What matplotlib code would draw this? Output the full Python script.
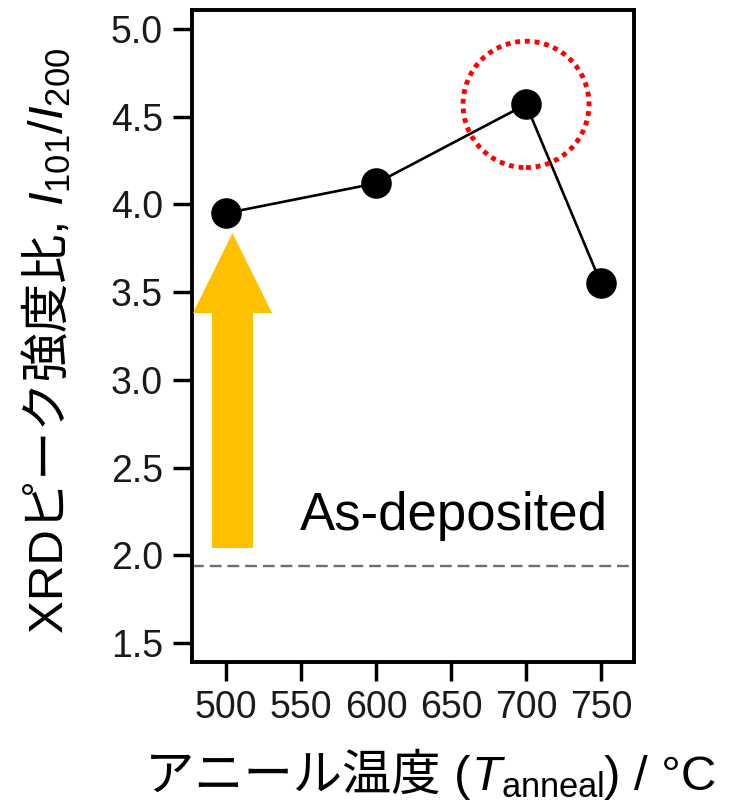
import matplotlib
matplotlib.use('Agg')
import matplotlib.pyplot as plt
from matplotlib.patches import Ellipse, FancyArrow

# data
temps = [500, 600, 700, 750]
ratio = [3.95, 4.12, 4.57, 3.55]
as_deposited = 1.94
xticks = [500, 550, 600, 650, 700, 750]
yticks = [1.5, 2.0, 2.5, 3.0, 3.5, 4.0, 4.5, 5.0]

W, H = 730, 806
plt.rcParams['font.family'] = ['Liberation Sans', 'Noto Sans CJK JP']
plt.rcParams['mathtext.fontset'] = 'custom'
plt.rcParams['mathtext.rm'] = 'Liberation Sans'
plt.rcParams['mathtext.it'] = 'Liberation Sans:italic'

fig = plt.figure(figsize=(W / 100, H / 100), dpi=100)
ax = fig.add_axes([192/W, 144/H, 442/W, 652/H])

ax.plot(temps, ratio, '-o', color='black', lw=1.9, ms=21)
ax.axhline(as_deposited, color='#6e6e6e', lw=1.7, ls=(0, (5, 2.5)))

# orange arrow (as-deposited -> 500 C)
ax.add_patch(FancyArrow(504.3, 2.042, 0, 3.837 - 2.042, width=27.3, head_width=52.7,
                        head_length=0.456, length_includes_head=True,
                        color='#FFC000', lw=0, zorder=3))

# dotted circle around the peak
ax.add_patch(Ellipse((700, 4.57), 84, 0.72, fill=False, edgecolor='#FF0000',
                     lw=3.5, ls=(0, (1, 1)), zorder=4))

ax.text(549, 2.144, 'As-deposited', fontsize=38, color='black')

ax.set_xlim(477.3, 772)
ax.set_ylim(1.392, 5.108)
ax.set_xticks(xticks)
ax.set_yticks(yticks)
ax.set_yticklabels([f'{v:.1f}' for v in yticks])
ax.tick_params(direction='out', length=14, width=2.5, labelsize=27, labelcolor='#1a1a1a')
ax.tick_params(axis='y', pad=7)
ax.tick_params(axis='x', pad=6)
for s in ax.spines.values():
    s.set_linewidth(2.8)


def pieces(x, y, parts, size, rotation=0):
    # draw text pieces one after another (so CJK fallback works next to mathtext)
    r = fig.canvas.get_renderer()
    for s in parts:
        t = fig.text(x / W, 1 - y / H, s, fontsize=size, rotation=rotation,
                     rotation_mode='anchor', ha='left', va='baseline')
        bb = t.get_window_extent(r)
        if rotation == 90:
            y -= bb.height
        else:
            x += bb.width


pieces(145, 790, ['アニール温度 (', '$T_{\\mathrm{anneal}}$', ') / °C'], 35.5)
pieces(63, 633, ['XRDピーク強度比, ', '$I_{101}/I_{200}$'], 35.5, rotation=90)

fig.savefig('out.png', dpi=100)
